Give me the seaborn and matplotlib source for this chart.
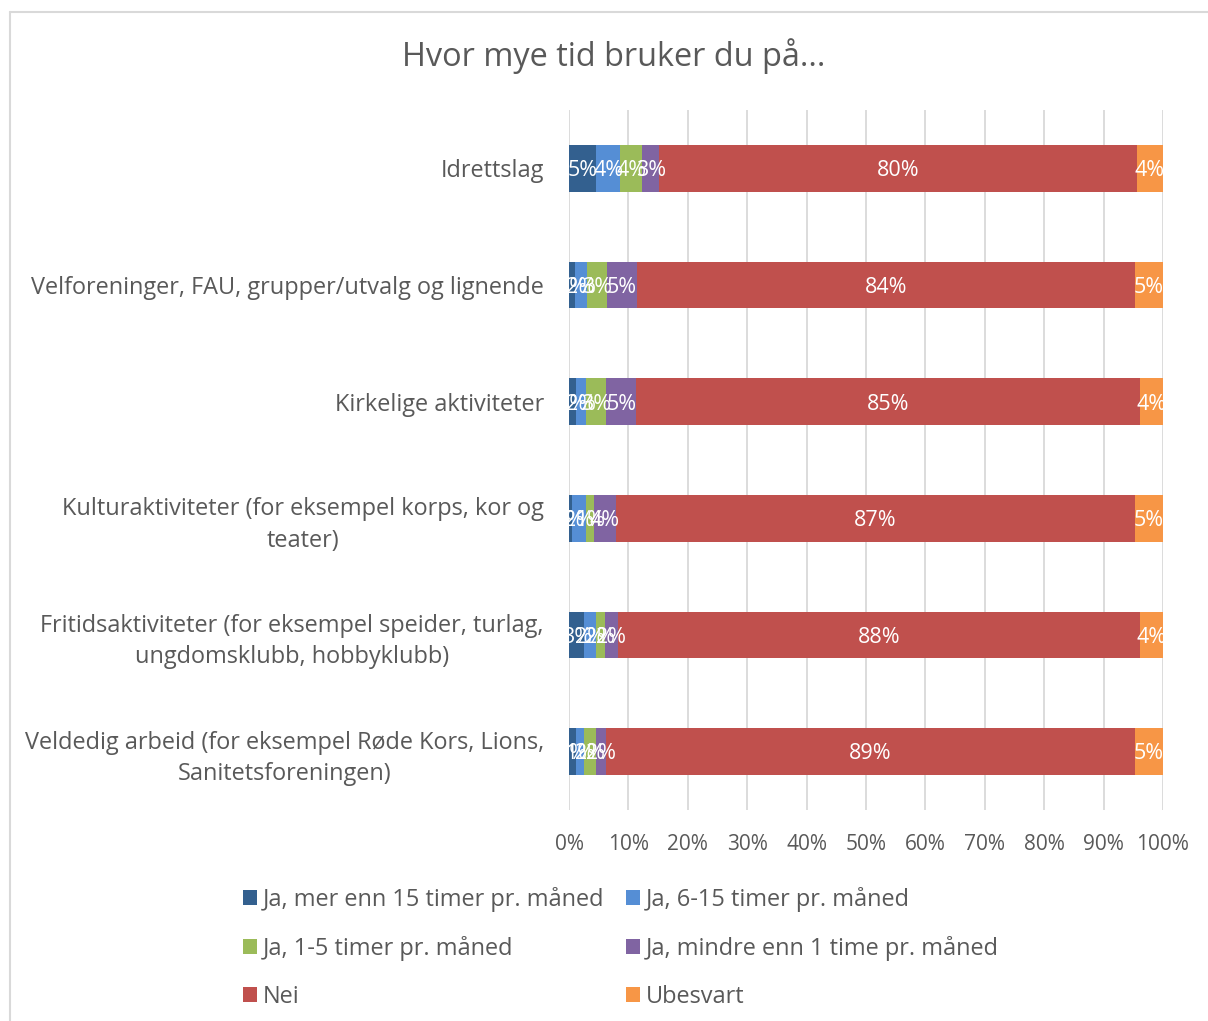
import matplotlib
matplotlib.use("Agg")
import matplotlib.pyplot as plt
import seaborn as sns
import numpy as np
import pandas as pd
from matplotlib.patches import Patch
from matplotlib.lines import Line2D

categories = [
    "Idrettslag",
    "Velforeninger, FAU, grupper/utvalg og lignende",
    "Kirkelige aktiviteter",
    "Kulturaktiviteter (for eksempel korps, kor og\nteater)",
    "Fritidsaktiviteter (for eksempel speider, turlag,\nungdomsklubb, hobbyklubb)",
    "Veldedig arbeid (for eksempel Røde Kors, Lions,\nSanitetsforeningen)",
]
series_names = [
    "Ja, mer enn 15 timer pr. måned",
    "Ja, 6-15 timer pr. måned",
    "Ja, 1-5 timer pr. måned",
    "Ja, mindre enn 1 time pr. måned",
    "Nei",
    "Ubesvart",
]
ja_mer_enn_15 = [4.6, 1.0, 1.2, 0.5, 2.6, 1.1]
ja_6_15 = [4.0, 2.0, 1.7, 2.3, 1.9, 1.4]
ja_1_5 = [3.7, 3.4, 3.4, 1.4, 1.5, 2.0]
ja_mindre_enn_1 = [2.9, 5.0, 5.0, 3.7, 2.2, 1.7]
nei = [80.4, 83.9, 84.9, 87.4, 87.9, 89.1]
ubesvart = [4.4, 4.7, 3.8, 4.7, 3.9, 4.7]
series_values = [ja_mer_enn_15, ja_6_15, ja_1_5, ja_mindre_enn_1, nei, ubesvart]
colors = ["#33608f", "#558ed5", "#9bbb59", "#8064a2", "#c0504d", "#f79646"]
xtick_labels = ["0%", "10%", "20%", "30%", "40%", "50%", "60%", "70%", "80%", "90%", "100%"]
title = "Hvor mye tid bruker du på..."

sns.set_theme(style="white")
plt.rcParams["font.family"] = ["Open Sans", "DejaVu Sans"]
GRAY = "#595959"

W, H = 1208, 1021
fig = plt.figure(figsize=(W / 100, H / 100), dpi=100)
ax = fig.add_axes([569 / W, 1 - 810 / H, (1163 - 569) / W, (810 - 110) / H])

vals = np.array(series_values)
cums = np.cumsum(vals, axis=0)

for i in range(len(series_names) - 1, -1, -1):
    df = pd.DataFrame({"cat": categories, "val": cums[i]})
    sns.barplot(data=df, x="val", y="cat", orient="h", color=colors[i],
                width=0.4, ax=ax, saturation=1, zorder=3, linewidth=0)

for i in range(len(series_names)):
    for j in range(len(categories)):
        v = vals[i, j]
        c = cums[i, j] - v / 2
        ax.text(c, j + 0.02, f"{v:.0f}%", ha="center", va="center", color="white",
                fontsize=15.5, zorder=5)

ax.set_xlim(0, 100)
ax.set_ylim(5.5, -0.5)
ax.set_xticks(np.arange(0, 101, 10))
ax.set_xticklabels(xtick_labels, color=GRAY, fontsize=15)
ax.set_xlabel("")
ax.set_ylabel("")
ax.tick_params(axis="x", length=0, pad=17)
ax.tick_params(axis="y", length=0, pad=18)
for lbl in ax.get_yticklabels():
    lbl.set_color(GRAY)
    lbl.set_fontsize(16.9)
    lbl.set_multialignment("center")
    lbl.set_linespacing(1.4)
ax.grid(axis="x", color="#d9d9d9", linewidth=1.3, zorder=0)
ax.grid(axis="y", visible=False)
ax.set_axisbelow(True)
for s in ax.spines.values():
    s.set_visible(False)

fig.text(614 / W, 1 - 56 / H, title, ha="center", va="center", fontsize=23.4, color=GRAY)

order = [0, 2, 4, 1, 3, 5]
handles = [Patch(facecolor=colors[k], edgecolor="none", label=series_names[k]) for k in order]
leg = fig.legend(handles=handles, ncol=2, loc="upper left",
                 bbox_to_anchor=(222 / W, 1 - 866 / H), frameon=False,
                 fontsize=16.9, handlelength=0.6, handleheight=0.6,
                 handletextpad=0.25, columnspacing=0.9, labelspacing=1.02)
for t in leg.get_texts():
    t.set_color(GRAY)

# outer frame
fig.add_artist(Line2D([10 / W, 10 / W], [1 - 12 / H, 0], transform=fig.transFigure,
                      color="#d9d9d9", linewidth=1.5))
fig.add_artist(Line2D([10 / W, 1], [1 - 12 / H, 1 - 12 / H], transform=fig.transFigure,
                      color="#d9d9d9", linewidth=1.5))

fig.savefig("out.png", dpi=100, facecolor="white")
